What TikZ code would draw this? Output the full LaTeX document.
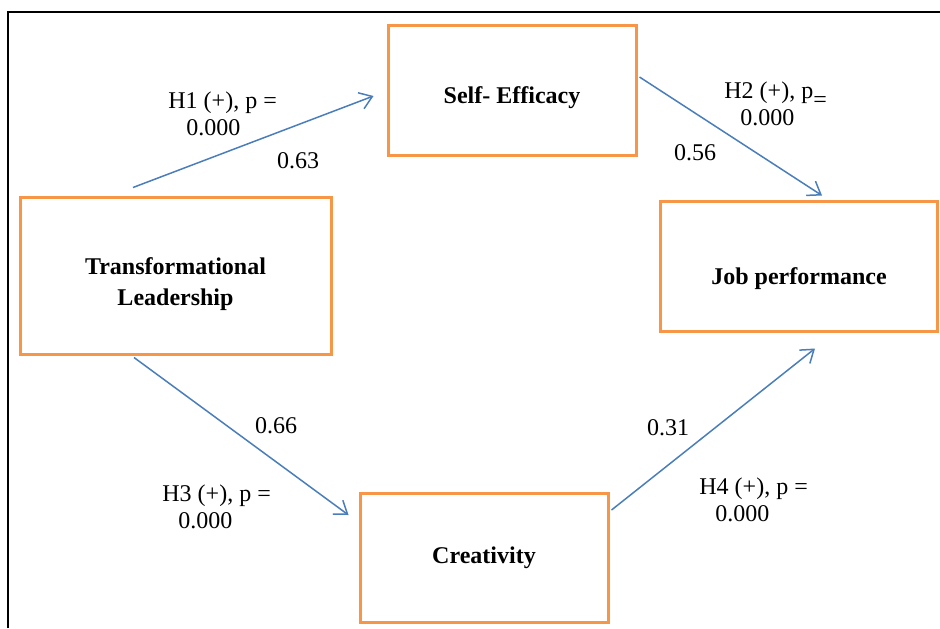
\documentclass[tikz,border=0pt]{standalone}
\usepackage{fontspec}
\setmainfont{Liberation Serif}
\usetikzlibrary{arrows.meta}

\definecolor{boxorange}{HTML}{F79646}
\definecolor{linkblue}{HTML}{4A7EBB}

\begin{document}
\begin{tikzpicture}[x=0.5pt, y=-0.5pt,
    font=\fontsize{12pt}{13.8pt}\selectfont,
    var/.style={draw=boxorange, line width=1.5pt, fill=white, align=center,
      inner sep=0pt, font=\fontsize{12pt}{15.5pt}\selectfont\bfseries},
    link/.style={draw=linkblue, line width=0.75pt, -{Straight Barb[length=6pt,width=8.5pt]}},
    hyp/.style={inner sep=0pt, align=left, anchor=west},
    coef/.style={inner sep=0pt, anchor=base}]
  \useasboundingbox (0,0) rectangle (940,628);
  \draw[line width=1pt] (8,628) -- (8,12) -- (940,12);

  \node[var, minimum width=124pt, minimum height=65pt] (se) at (512,90) {\rule{0pt}{16.3pt}Self- Efficacy};
  \node[var, minimum width=155.5pt, minimum height=78.5pt] (tl) at (175.5,275.5) {\rule{0pt}{17.3pt}Transformational\\Leadership};
  \node[var, minimum width=138.5pt, minimum height=65pt] (jp) at (799,266) {\rule{0pt}{21.3pt}Job performance};
  \node[var, minimum width=124pt, minimum height=64.5pt] (cr) at (484,557.5) {Creativity};

  \draw[link] ([xshift=-21.25pt, yshift=4pt]tl.north) -- ([xshift=-6.5pt, yshift=-3pt]se.west);
  \draw[link] ([xshift=1pt, yshift=6.5pt]se.east) -- ([xshift=11.5pt, yshift=2pt]jp.north);
  \draw[link] ([xshift=-20.75pt, yshift=-1pt]tl.south) -- ([xshift=-5pt, yshift=21.25pt]cr.west);
  \draw[link] ([xshift=1pt, yshift=23.75pt]cr.east) -- ([xshift=8pt, yshift=-8pt]jp.south);

  \node[hyp] (h1) at (168,114) {H1 (+), p =\\\hspace*{9pt}0.000};
  \node[coef] (b1) at (298,168) {0.63};
  \node[hyp] (h2) at (724,104) {H2 (+), p\raisebox{-4.5pt}[0pt][0pt]{=}\\\hspace*{8pt}0.000};
  \node[coef] (b2) at (695,160) {0.56};
  \node[coef] (b3) at (276,433) {0.66};
  \node[hyp] (h3) at (162,507) {H3 (+), p =\\\hspace*{8pt}0.000};
  \node[coef] (b4) at (668,435) {0.31};
  \node[hyp] (h4) at (699,500) {H4 (+), p =\\\hspace*{8pt}0.000};
\end{tikzpicture}
\end{document}
